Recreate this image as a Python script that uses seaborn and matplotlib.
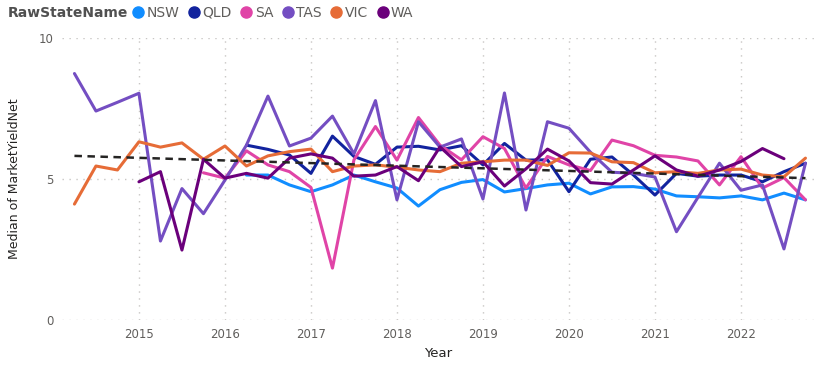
import numpy as np
import pandas as pd
import matplotlib
matplotlib.use("Agg")
import matplotlib.pyplot as plt
from matplotlib.lines import Line2D
import seaborn as sns

# ---- data: median MarketYieldNet per quarter (2014 Q2 .. 2022 Q4) ----
first_year, first_q, n_quarters = 2014, 2, 35

states = ['NSW', 'QLD', 'SA', 'TAS', 'VIC', 'WA']
colors = ['#118DFF', '#12239E', '#E044A7', '#744EC2', '#E66C37', '#6B007B']

nsw = [None] * 8 + [5.14, 5.14, 4.79, 4.55, 4.79, 5.14, 4.90, 4.68, 4.04, 4.62,
                    4.88, 4.98, 4.54, 4.66, 4.79, 4.85, 4.47, 4.72, 4.73, 4.64,
                    4.40, 4.37, 4.33, 4.40, 4.26, 4.50, 4.26]
qld = [None] * 8 + [6.20, 6.05, 5.85, 5.20, 6.52, 5.80, 5.52, 6.13, 6.16, 6.03,
                    6.18, 5.50, 6.26, 5.67, 5.68, 4.55, 5.70, 5.78, 5.14, 4.43,
                    5.20, 5.10, 5.14, 5.14, 4.90, 5.26, 5.56]
sa = [None] * 6 + [5.22, 5.03, 6.00, 5.50, 5.26, 4.70, 1.84, 5.68, 6.86, 5.67,
                   7.18, 6.20, 5.68, 6.50, 6.08, 4.68, 5.80, 5.50, 5.30, 6.38,
                   6.18, 5.84, 5.78, 5.64, 4.79, 5.79, 4.68, 5.05, 4.26]
tas = [8.74, 7.41, 7.72, 8.04, 2.80, 4.66, 3.77, 4.96, 6.20, 7.94, 6.17, 6.45,
       7.23, 5.89, 7.78, 4.26, 7.03, 6.13, 6.42, 4.29, 8.05, 3.90, 7.03, 6.80,
       5.95, 5.24, 5.20, 5.07, 3.13, 4.35, 5.56, 4.60, 4.79, 2.52, 5.56]
vic = [4.11, 5.46, 5.32, 6.32, 6.13, 6.28, 5.70, 6.17, 5.46, 5.82, 5.97, 6.06,
       5.26, 5.46, 5.50, 5.42, 5.32, 5.26, 5.56, 5.61, 5.67, 5.67, 5.48, 5.93,
       5.92, 5.61, 5.58, 5.22, 5.26, 5.20, 5.32, 5.35, 5.14, 5.08, 5.74]
wa = [None] * 3 + [4.90, 5.26, 2.48, 5.70, 5.03, 5.20, 5.03, 5.74, 5.89, 5.74,
                   5.10, 5.14, 5.44, 4.94, 6.14, 5.44, 5.61, 4.75, 5.36, 6.06,
                   5.64, 4.87, 4.82, 5.32, 5.82, 5.32, 5.10, 5.32, 5.62, 6.08,
                   5.72] + [None]

# trend line end points
trend_start, trend_end = 5.82, 5.03

year_ticks = list(range(2015, 2023))
y_ticks = [0, 5, 10]

# ---- long table for seaborn ----
qs = np.arange(n_quarters) + (first_q - 1)
x_pos = first_year + qs / 4.0
rows = []
for name, vals in zip(states, [nsw, qld, sa, tas, vic, wa]):
    for x, v in zip(x_pos, vals):
        rows.append((name, x, v))
df = pd.DataFrame(rows, columns=['RawStateName', 'Year', 'Median']).dropna()

sns.set_theme(style='white')
plt.rcParams['font.family'] = ['DejaVu Sans']

fig = plt.figure(figsize=(8.22, 3.83), dpi=100)
ax = fig.add_axes([0.0754, 0.1645, 0.916, 0.7363])

for y in y_ticks:
    ax.axhline(y, color='#C8C6C4', lw=1, ls=(0, (1, 4)), zorder=0)
for x in year_ticks:
    ax.axvline(x, color='#C8C6C4', lw=1, ls=(0, (1, 4)), zorder=0)

sns.lineplot(data=df, x='Year', y='Median', hue='RawStateName',
             hue_order=states, palette=dict(zip(states, colors)),
             linewidth=2.2, legend=False, ax=ax)

ax.plot([x_pos[0], x_pos[-1]], [trend_start, trend_end], color='#252423',
        lw=1.8, ls=(0, (3, 2.2)), zorder=5)

ax.set_xlim(2014.105, 2022.86)
ax.set_ylim(0, 10)
ax.set_xticks(year_ticks)
ax.set_yticks(y_ticks)
ax.tick_params(axis='both', length=0, labelsize=8.5, labelcolor='#605E5C', pad=6)
for s in ax.spines.values():
    s.set_visible(False)
ax.grid(False)

ax.set_xlabel('Year', fontsize=9.5, color='#252423', labelpad=4)
ax.set_ylabel('Median of MarketYieldNet', fontsize=9, color='#252423', labelpad=13)

# legend row at the top
fig.text(8 / 822, 1 - 13 / 383, 'RawStateName', fontsize=10, fontweight='bold',
         color='#505050', va='center', ha='left')
handles = [Line2D([], [], ls='none', marker='o', markersize=8, color=c) for c in colors]
fig.legend(handles, states, loc='center left', bbox_to_anchor=(130 / 822, 1 - 13 / 383),
           ncol=6, frameon=False, fontsize=10, labelcolor='#605E5C',
           handletextpad=0.0, columnspacing=0.45, handlelength=1.2,
           borderaxespad=0, borderpad=0)

fig.savefig('out.png', dpi=100)
